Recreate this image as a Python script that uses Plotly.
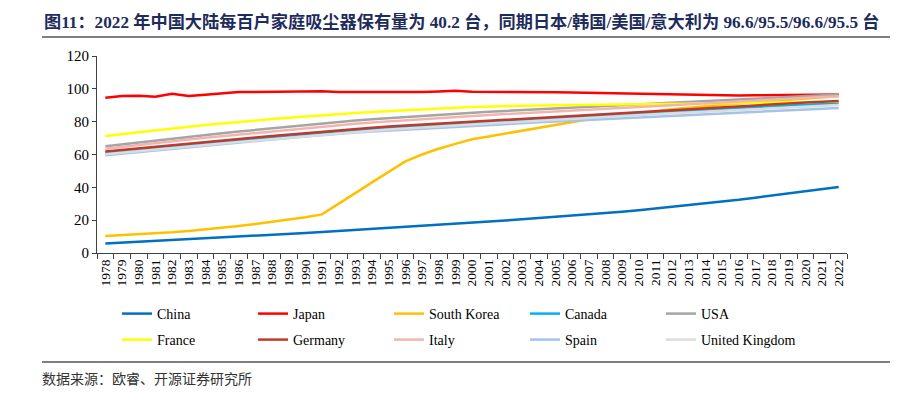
import plotly.graph_objects as go

years = [str(y) for y in range(1978, 2023)]

china = [5.8, 6.3, 6.8, 7.3, 7.8, 8.3, 8.8, 9.3, 9.9, 10.5, 11.0, 11.6, 12.2, 12.8, 13.4,
         14.0, 14.6, 15.2, 15.8, 16.4, 17.0, 17.7, 18.4, 19.1, 19.8, 20.5, 21.2, 22.0, 22.7, 23.5,
         24.3, 25.1, 26.0, 27.0, 28.0, 29.0, 30.0, 31.2, 32.4, 33.7, 35.0, 36.3, 37.6, 38.9, 40.2]
japan = [94.5, 95.6, 95.8, 95.2, 97.0, 95.6, 96.4, 97.2, 98.0, 98.0, 98.2, 98.6, 98.8, 98.6, 98.0,
         98.2, 98.1, 98.1, 98.0, 98.0, 98.3, 98.8, 98.2, 98.2, 98.1, 98.0, 97.9, 97.9, 97.7, 97.5,
         97.3, 97.0, 96.8, 96.6, 96.4, 96.2, 96.1, 96.0, 96.0, 96.1, 96.2, 96.3, 96.4, 96.5, 96.6]
south_korea = [10.3, 10.8, 11.3, 11.9, 12.6, 13.4, 14.3, 15.3, 16.4, 17.6, 18.9, 20.3, 21.8, 23.5, 29.8,
               36.5, 43.0, 49.5, 55.8, 60.0, 63.5, 66.5, 69.3, 71.0, 72.8, 74.5, 76.2, 78.0, 79.8, 81.5,
               83.0, 84.2, 85.4, 86.5, 87.5, 88.5, 89.4, 90.3, 91.1, 91.9, 92.7, 93.4, 94.1, 94.8, 95.5]
canada = [61.0, 62.0, 63.0, 64.0, 65.0, 65.9, 66.8, 67.7, 68.6, 69.5, 70.4, 71.3, 72.2, 73.1, 74.0,
          74.8, 75.5, 76.2, 76.9, 77.5, 78.1, 78.7, 79.3, 79.9, 80.5, 81.1, 81.7, 82.3, 82.9, 83.5,
          84.1, 84.7, 85.3, 85.8, 86.3, 86.8, 87.3, 87.8, 88.3, 88.8, 89.3, 89.8, 90.3, 90.8, 91.3]
usa = [65.0, 66.2, 67.4, 68.6, 69.7, 70.8, 71.9, 73.0, 74.0, 75.0, 76.0, 77.0, 78.0, 79.0, 79.9,
       80.7, 81.4, 82.1, 82.8, 83.5, 84.2, 84.9, 85.5, 86.0, 86.5, 87.0, 87.5, 88.0, 88.5, 89.0,
       89.5, 90.0, 90.5, 91.0, 91.5, 92.0, 92.5, 93.0, 93.5, 94.0, 94.5, 95.0, 95.5, 96.1, 96.6]
france = [71.3, 72.5, 73.7, 74.8, 75.9, 76.9, 77.9, 78.9, 79.8, 80.7, 81.6, 82.4, 83.2, 84.0, 84.7,
          85.3, 85.9, 86.5, 87.0, 87.5, 88.0, 88.5, 89.0, 89.3, 89.6, 89.8, 89.9, 90.0, 90.1, 90.2,
          90.3, 90.4, 90.5, 90.6, 90.7, 90.8, 90.9, 91.0, 91.1, 91.3, 91.5, 91.7, 91.9, 92.1, 92.3]
germany = [61.8, 62.8, 63.8, 64.8, 65.8, 66.8, 67.7, 68.6, 69.5, 70.4, 71.3, 72.2, 73.1, 74.0, 74.9,
           75.6, 76.3, 77.0, 77.6, 78.2, 78.8, 79.4, 80.0, 80.6, 81.2, 81.8, 82.4, 83.0, 83.6, 84.2,
           84.8, 85.4, 86.0, 86.6, 87.2, 87.8, 88.4, 89.0, 89.6, 90.1, 90.6, 91.1, 91.6, 92.1, 92.6]
italy = [63.5, 64.7, 65.9, 67.0, 68.1, 69.2, 70.2, 71.2, 72.2, 73.2, 74.2, 75.2, 76.2, 77.1, 78.0,
         78.8, 79.5, 80.2, 80.9, 81.6, 82.3, 83.0, 83.6, 84.1, 84.6, 85.1, 85.6, 86.1, 86.6, 87.1,
         87.6, 88.2, 88.8, 89.4, 90.0, 90.6, 91.2, 91.8, 92.4, 93.0, 93.5, 94.0, 94.5, 95.0, 95.5]
spain = [59.5, 60.5, 61.5, 62.5, 63.5, 64.5, 65.5, 66.5, 67.4, 68.3, 69.2, 70.1, 71.0, 71.9, 72.8,
         73.4, 74.0, 74.6, 75.2, 75.8, 76.4, 77.0, 77.6, 78.1, 78.6, 79.1, 79.6, 80.1, 80.6, 81.1,
         81.6, 82.1, 82.6, 83.1, 83.6, 84.1, 84.6, 85.1, 85.6, 86.1, 86.5, 86.9, 87.4, 87.9, 88.4]
united_kingdom = [60.2, 61.2, 62.2, 63.1, 64.0, 64.9, 65.8, 66.7, 67.6, 68.5, 69.4, 70.3, 71.2, 72.1, 73.0,
                  73.8, 74.5, 75.2, 75.9, 76.5, 77.1, 77.7, 78.3, 78.9, 79.5, 80.1, 80.7, 81.3, 81.9, 82.5,
                  83.1, 83.6, 84.1, 84.6, 85.1, 85.6, 86.1, 86.6, 87.1, 87.6, 88.1, 88.6, 89.1, 89.6, 90.1]

series_names = ["China", "Japan", "South Korea", "Canada", "USA",
                "France", "Germany", "Italy", "Spain", "United Kingdom"]
series_values = [china, japan, south_korea, canada, usa,
                 france, germany, italy, spain, united_kingdom]
series_colors = ["#0070C0", "#FF0000", "#FFC000", "#00B0F0", "#A5A5A5",
                 "#FFFF00", "#C0392B", "#F2B5AE", "#A4C2EA", "#DCDCDC"]

title_text = ("图11：2022 年中国大陆每百户家庭吸尘器保有量为 40.2 台，"
              "同期日本/韩国/美国/意大利为 96.6/95.5/96.6/95.5 台")
source_text = "数据来源：欧睿、开源证券研究所"

W, H = 905, 393
L, R, T, B = 97, 58, 56, 140
pw, ph = W - L - R, H - T - B

def px(xp):
    return (xp - L) / pw

def py(yp):
    return (H - B - yp) / ph

fig = go.Figure()
for i, (name, vals, col) in enumerate(zip(series_names, series_values, series_colors)):
    fig.add_trace(go.Scatter(
        x=years, y=vals, name=name, mode="lines",
        line=dict(color=col, width=2.5),
        legend="legend" if i < 5 else "legend2",
    ))

serif = "Liberation Serif, Times New Roman, serif"
leg_common = dict(
    orientation="h", xanchor="left", yanchor="middle",
    font=dict(family=serif, size=14, color="#000000"),
    entrywidth=91, entrywidthmode="pixels",
    bgcolor="rgba(0,0,0,0)", borderwidth=0, itemwidth=30,
    traceorder="normal",
)

fig.update_layout(
    width=W, height=H,
    margin=dict(l=L, r=R, t=T, b=B, pad=0, autoexpand=False),
    paper_bgcolor="white", plot_bgcolor="white",
    showlegend=True,
    legend=dict(x=px(117), y=py(314), **leg_common),
    legend2=dict(x=px(117), y=py(340), **leg_common),
    xaxis=dict(
        type="category", range=[-0.5, 44.5],
        tickmode="array", tickvals=years, ticktext=years,
        showline=True, linecolor="#404040", linewidth=1,
        ticks="outside", ticklen=5, tickcolor="#404040", tickson="boundaries",
        tickangle=-90, tickfont=dict(family=serif, size=13.5, color="#000000"),
        showgrid=False, zeroline=False,
    ),
    yaxis=dict(
        range=[0, 120], dtick=20, tick0=0,
        showline=True, linecolor="#404040", linewidth=1,
        ticks="outside", ticklen=4, tickcolor="#404040",
        tickfont=dict(family=serif, size=15, color="#000000"),
        showgrid=False, zeroline=False,
    ),
    annotations=[
        dict(text=title_text, xref="paper", yref="paper", x=px(42), y=py(22),
             xanchor="left", yanchor="middle", showarrow=False,
             font=dict(family="Liberation Serif, Noto Sans CJK SC", size=17.2,
                       color="#1E2C5C", weight="bold")),
        dict(text=source_text, xref="paper", yref="paper", x=px(40), y=py(378),
             xanchor="left", yanchor="middle", showarrow=False,
             font=dict(family="Noto Sans CJK SC", size=14, color="#333333")),
    ],
    shapes=[
        dict(type="line", xref="paper", yref="paper", x0=px(42), x1=px(890),
             y0=py(37), y1=py(37), line=dict(color="#7F7F7F", width=2)),
        dict(type="line", xref="paper", yref="paper", x0=px(42), x1=px(890),
             y0=py(362), y1=py(362), line=dict(color="#7F7F7F", width=2)),
    ],
)

fig.write_html("out.html",
               config={"displayModeBar": False},
               post_script="document.body.style.margin='0px';document.body.style.overflow='hidden';")
